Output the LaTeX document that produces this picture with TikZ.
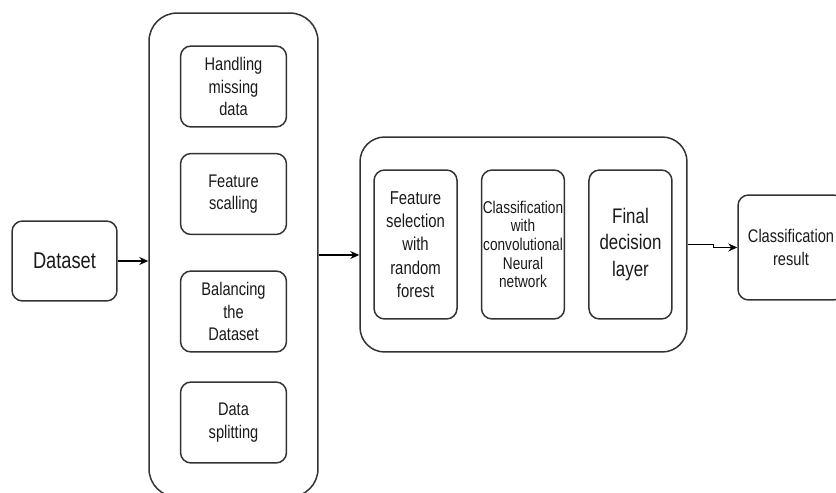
\documentclass[tikz,border=0pt]{standalone}
\usepackage{fontspec}
\setmainfont{Liberation Sans}[FakeStretch=0.8]
\usepackage{xcolor}
\usepackage{tikz}
\usetikzlibrary{arrows.meta,positioning,calc}
\definecolor{pdline}{HTML}{333333}
\definecolor{pdtext}{HTML}{1A1A1A}

\begin{document}
\begin{tikzpicture}[
  x=0.02cm, y=-0.02cm,
  node distance=0.46cm,
  box/.style={rectangle, rounded corners=6pt, draw=pdline, line width=0.85pt, fill=white,
              align=center, inner sep=0pt, text=pdtext},
  outer/.style={box, rounded corners=16pt},
  prep/.style={box, minimum width=2.12cm, minimum height=1.62cm, font=\fontsize{10.4}{12.8}\selectfont},
  model/.style={box, minimum width=1.66cm, minimum height=2.98cm, font=\fontsize{10.6}{13.2}\selectfont},
  arr/.style={-{Stealth[length=1.8mm, width=1.6mm]}, draw=black, line width=0.85pt}
]
\useasboundingbox (0,0) rectangle (836,493);
\clip (0,0) rectangle (836,493);

\node[box, minimum width=2.1cm, minimum height=1.6cm, font=\fontsize{13}{15}\selectfont] (data) at (64.5,261) {Dataset};

% preprocessing
\node[outer, minimum width=3.38cm, minimum height=9.68cm] (pre) at (233.5,255) {};
\node[prep] (miss) at (233.5,86.5) {Handling\\missing\\data};
\node[prep] (scal) at (233.5,194) {Feature\\scalling};
\node[prep] (bal) at (233.5,311.5) {Balancing\\the\\Dataset};
\node[prep] (split) at (233.5,422.5) {Data\\splitting};

% model
\node[outer, rounded corners=14pt, minimum width=6.54cm, minimum height=4.3cm] (ml) at (523.5,244.5) {};
\node[model, font=\fontsize{9.7}{10.6}\selectfont] (cnn) at (523,244.5) {Classification\\with\\convolutional\\Neural\\network};
\node[model, left=of cnn] (rf) {Feature\\selection\\with\\random\\forest};
\node[model, right=of cnn, font=\fontsize{12}{15}\selectfont] (fin) {Final\\decision\\layer};

\node[box, minimum width=2.12cm, minimum height=2.1cm, font=\fontsize{10.4}{13}\selectfont] (res) at (791,247.5) {Classification\\result};

\draw[arr] (data.east) -- (data.east -| pre.west);
\draw[arr] (pre.east) -- (pre.east -| ml.west);
\draw[arr] (ml.east) -- ++(26,0) |- (res.west);
\end{tikzpicture}
\end{document}
